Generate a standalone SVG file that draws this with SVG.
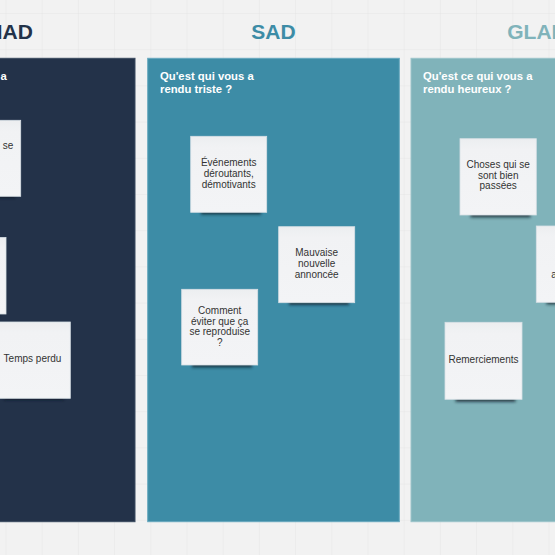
<svg xmlns="http://www.w3.org/2000/svg" width="555" height="555" viewBox="0 0 555 555">
  <defs>
    <pattern id="grid" x="5.5" y="13" width="36.2" height="36.2" patternUnits="userSpaceOnUse">
      <path d="M0 0H36.2M0 0V36.2" fill="none" stroke="#e5e5e5" stroke-width="1"/>
    </pattern>
    <linearGradient id="paper" x1="0" y1="0" x2="0" y2="1">
      <stop offset="0" stop-color="#eceef0"/>
      <stop offset="0.14" stop-color="#f1f2f4"/>
      <stop offset="1" stop-color="#f3f4f6"/>
    </linearGradient>
    <filter id="blur" x="-20%" y="-100%" width="140%" height="300%">
      <feGaussianBlur stdDeviation="1.8"/>
    </filter>
  </defs>
  <style>
    .title { font-family: "Liberation Sans", Arial, sans-serif; font-weight: bold; font-size: 21px; text-anchor: middle; }
    .head { font-family: "Liberation Sans", Arial, sans-serif; font-weight: bold; font-size: 11.3px; fill: #ffffff; }
    .panel { stroke-width: 1; }
    .note { fill: url(#paper); stroke: #d8e0e6; stroke-width: 0.8; }
    .shadow { fill: #0b1620; opacity: 0.7; filter: url(#blur); }
    .txt { font-family: "Liberation Sans", Arial, sans-serif; font-size: 10px; fill: #333333; text-anchor: middle; }
  </style>

  <rect width="555" height="555" fill="#f2f2f2"/>
  <rect width="555" height="555" fill="url(#grid)"/>

  <!-- Columns -->
  <g id="col-mad">
    <text class="title" x="9" y="38.5" fill="#233249">MAD</text>
    <rect class="panel" x="-117" y="58.3" width="252" height="463.4" fill="#233249" stroke="#3a4a60"/>
    <text class="head" x="0.5" y="80">a</text>
  </g>
  <g id="col-sad">
    <text class="title" x="273.5" y="38.5" fill="#3d8ca6">SAD</text>
    <rect class="panel" x="147.7" y="58.3" width="251.6" height="463.4" fill="#3d8ca6" stroke="#67a8bf"/>
    <text class="head" x="160" y="80">Qu'est qui vous a</text>
    <text class="head" x="160" y="92.5">rendu triste ?</text>
  </g>
  <g id="col-glad">
    <text class="title" x="537" y="38.5" fill="#80b3ba">GLAD</text>
    <rect class="panel" x="411" y="58.3" width="252" height="463.4" fill="#80b3ba" stroke="#9cc4ca"/>
    <text class="head" x="423" y="80">Qu'est ce qui vous a</text>
    <text class="head" x="423" y="92.5">rendu heureux ?</text>
  </g>

  <!-- Sticky notes: MAD -->
  <g id="note-mad-1">
    <rect class="shadow" x="-45" y="191" width="60" height="7"/>
    <rect class="note" x="-55.3" y="120.3" width="76" height="76"/>
    <text class="txt" x="8" y="149">se</text>
  </g>
  <g id="note-mad-2">
    <rect class="shadow" x="-60" y="309" width="60" height="7"/>
    <rect class="note" x="-70" y="237.5" width="76" height="76.5"/>
  </g>
  <g id="note-mad-3">
    <rect class="shadow" x="4" y="393" width="60" height="7"/>
    <rect class="note" x="-5.7" y="322" width="76" height="76.3"/>
    <text class="txt" x="32.5" y="362.3">Temps perdu</text>
  </g>

  <!-- Sticky notes: SAD -->
  <g id="note-sad-1">
    <rect class="shadow" x="201" y="207.5" width="60" height="7"/>
    <rect class="note" x="190.7" y="136.3" width="76" height="76"/>
    <text class="txt" x="228.7" y="166.2">Événements</text>
    <text class="txt" x="228.7" y="177">déroutants,</text>
    <text class="txt" x="228.7" y="187.6">démotivants</text>
  </g>
  <g id="note-sad-2">
    <rect class="shadow" x="289" y="298" width="60" height="7"/>
    <rect class="note" x="278.7" y="226.7" width="76" height="76"/>
    <text class="txt" x="316.7" y="255.8">Mauvaise</text>
    <text class="txt" x="316.7" y="266.8">nouvelle</text>
    <text class="txt" x="316.7" y="277.8">annoncée</text>
  </g>
  <g id="note-sad-3">
    <rect class="shadow" x="192" y="360.5" width="60" height="7"/>
    <rect class="note" x="181.7" y="289.3" width="76" height="75.7"/>
    <text class="txt" x="219.7" y="313.5">Comment</text>
    <text class="txt" x="219.7" y="324.5">éviter que ça</text>
    <text class="txt" x="219.7" y="335.3">se reproduise</text>
    <text class="txt" x="219.7" y="346.3">?</text>
  </g>

  <!-- Sticky notes: GLAD -->
  <g id="note-glad-1">
    <rect class="shadow" x="470.5" y="210.5" width="60" height="7"/>
    <rect class="note" x="460" y="138.7" width="76.3" height="76.3"/>
    <text class="txt" x="498.2" y="167.8">Choses qui se</text>
    <text class="txt" x="498.2" y="178.8">sont bien</text>
    <text class="txt" x="498.2" y="189.3">passées</text>
  </g>
  <g id="note-glad-2">
    <rect class="shadow" x="546.5" y="297.5" width="60" height="7"/>
    <rect class="note" x="536.3" y="226" width="76" height="76.3"/>
    <text class="txt" x="554" y="277.8">a</text>
  </g>
  <g id="note-glad-3">
    <rect class="shadow" x="455.5" y="395" width="60" height="7"/>
    <rect class="note" x="445" y="322.3" width="77" height="77"/>
    <text class="txt" x="483.5" y="362.8">Remerciements</text>
  </g>

  <g id="connectors"/>
</svg>
